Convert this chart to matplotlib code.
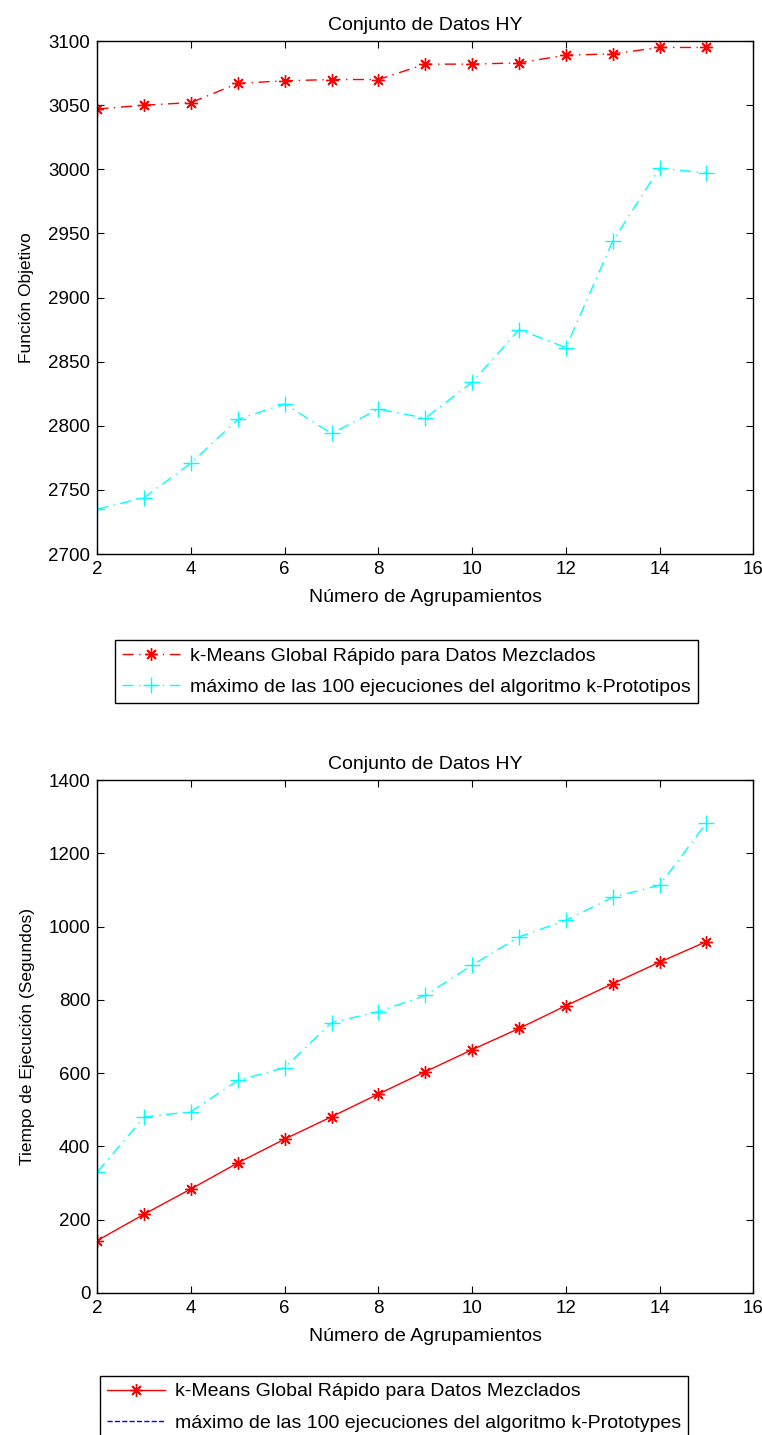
import numpy as np
import matplotlib.pyplot as plt
from matplotlib.lines import Line2D

plt.rcParams['font.family'] = ['Liberation Sans', 'DejaVu Sans']

k = [2, 3, 4, 5, 6, 7, 8, 9, 10, 11, 12, 13, 14, 15]

# funcion objetivo
obj_global = [3047, 3050, 3052, 3067, 3069, 3070, 3070, 3082, 3082, 3083, 3089, 3090, 3095, 3095]
obj_proto = [2735, 2744, 2771, 2805, 2817, 2794, 2813, 2806, 2834, 2875, 2861, 2944, 3001, 2997]

# tiempo de ejecucion
t_global = [143, 215, 284, 355, 420, 481, 543, 604, 664, 722, 784, 844, 903, 959]
t_proto = [330, 480, 495, 580, 615, 738, 768, 812, 895, 972, 1017, 1080, 1113, 1283]

lab1 = 'k-Means Global Rápido para Datos Mezclados'
lab2a = 'máximo de las 100 ejecuciones del algoritmo k-Prototipos'
lab2b = 'máximo de las 100 ejecuciones del algoritmo k-Prototypes'

star = (8, 2, 0)
dashdot = (0, (8, 4, 1, 4))

fig = plt.figure(figsize=(7.62, 14.35), dpi=100)
ax1 = fig.add_axes([0.1277, 0.6139, 0.8609, 0.3575])
ax2 = fig.add_axes([0.1277, 0.0990, 0.8609, 0.3574])

def style(ax):
    ax.set_xlim(2, 16)
    ax.set_xticks(range(2, 17, 2))
    ax.tick_params(direction='in', top=True, right=True, labelsize=13.5, length=5, pad=5)
    for s in ax.spines.values():
        s.set_linewidth(1)
    ax.set_title('Conjunto de Datos HY', fontsize=14, pad=8)
    ax.set_xlabel('Número de Agrupamientos', fontsize=14, labelpad=8)

ax1.plot(k, obj_global, color='red', ls=dashdot, lw=1, marker=star, ms=9, mew=1)
ax1.plot(k, obj_proto, color='cyan', ls=dashdot, lw=1, marker='+', ms=12, mew=1)
style(ax1)
ax1.set_ylim(2700, 3100)
ax1.set_ylabel('Función Objetivo', fontsize=12.5, labelpad=10)

ax2.plot(k, t_global, color='red', ls='-', lw=1, marker=star, ms=9, mew=1)
ax2.plot(k, t_proto, color='cyan', ls=dashdot, lw=1, marker='+', ms=12, mew=1)
style(ax2)
ax2.set_ylim(0, 1400)
ax2.set_ylabel('Tiempo de Ejecución (Segundos)', fontsize=12.5, labelpad=10)

h1 = [Line2D([], [], color='red', ls=dashdot, lw=1, marker=star, ms=9),
      Line2D([], [], color='cyan', ls=dashdot, lw=1, marker='+', ms=12)]
leg1 = fig.legend(h1, [lab1, lab2a], loc='center', bbox_to_anchor=(0.5335, 0.532),
                  fontsize=14, fancybox=False, edgecolor='black', framealpha=1,
                  handlelength=3, handletextpad=0.5, borderpad=0.35, labelspacing=0.7)
leg1.get_frame().set_linewidth(1)

h2 = [Line2D([], [], color='red', ls='-', lw=1, marker=star, ms=9),
      Line2D([], [], color='blue', ls='--', lw=1)]
leg2 = fig.legend(h2, [lab1, lab2b], loc='upper left', bbox_to_anchor=(0.131, 0.0411),
                  fontsize=14, fancybox=False, edgecolor='black', framealpha=1,
                  handlelength=3, handletextpad=0.5, borderpad=0.35, labelspacing=0.7,
                  borderaxespad=0)
leg2.get_frame().set_linewidth(1)

fig.savefig('out.png', dpi=100)
